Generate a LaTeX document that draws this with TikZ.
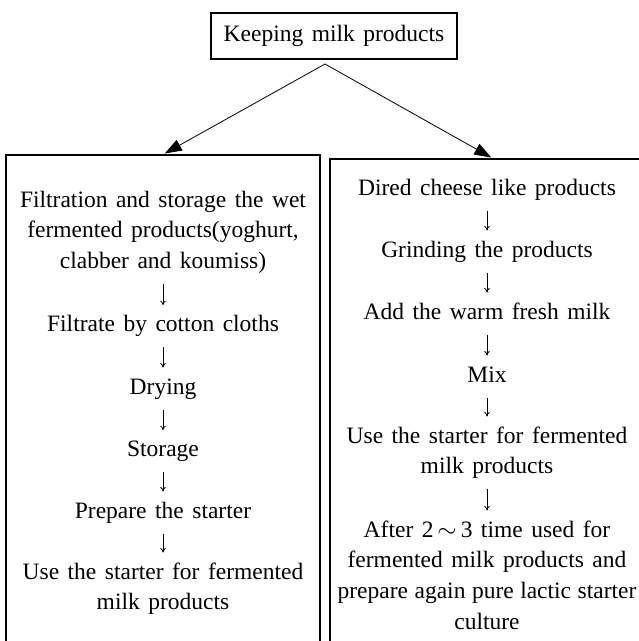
\documentclass[tikz,border=0pt]{standalone}
\usepackage{fontspec}
\setmainfont{Liberation Serif}
\usetikzlibrary{arrows.meta}
\newcommand{\diagfont}{\fontsize{23.5}{30.7}\selectfont\spaceskip 8.5pt\relax}
\begin{document}
\begin{tikzpicture}[x=1pt,y=-1pt,
  txt/.style={font=\diagfont, align=center, inner sep=0pt, anchor=north},
  flow/.style={-{To[length=4.5pt,width=5.5pt]}, line width=0.8pt, shorten <=6pt, shorten >=5pt},
  branch/.style={-{Triangle[length=17pt,width=12pt]}, line width=0.8pt, shorten >=2pt},
  frame/.style={draw, line width=1.1pt, inner sep=0pt}]
\useasboundingbox (0,0) rectangle (639,641);
\begin{scope}
\clip (0,0) rectangle (639,641);
\node[frame, minimum width=314pt, minimum height=505pt] (lbox) at (163,407.5) {};
\node[frame, minimum width=326pt, minimum height=501pt] (rbox) at (493,409.5) {};
\end{scope}
\node[frame, minimum width=246pt, minimum height=46pt, font=\diagfont] (top) at (334,36) {Keeping milk products};
\coordinate (apex) at (325,64);
\draw[branch] (apex) -- (lbox.north);
\draw[branch] (apex) -- (rbox.north);
% left column
\node[txt] (l1) at (163,185.5) {\strut Filtration and storage the wet\\fermented products(yoghurt,\\clabber and koumiss)\strut};
\node[txt] (l2) at (163,310.2) {\strut Filtrate by cotton cloths};
\node[txt] (l3) at (163,372.5) {\strut Drying};
\node[txt] (l4) at (163,435.2) {\strut Storage};
\node[txt] (l5) at (163,496.5) {\strut Prepare the starter};
\node[txt] (l6) at (163,557.5) {\strut Use the starter for fermented\\milk products\strut};
\draw[flow] (l1) -- (l2);
\draw[flow] (l2) -- (l3);
\draw[flow] (l3) -- (l4);
\draw[flow] (l4) -- (l5);
\draw[flow] (l5) -- (l6);
% right column
\node[txt] (r1) at (487,173.5) {\strut Dired cheese like products};
\node[txt] (r2) at (487,235.5) {\strut Grinding the products};
\node[txt] (r3) at (487,297.5) {\strut Add the warm fresh milk};
\node[txt] (r4) at (487,360.5) {\strut Mix};
\node[txt] (r5) at (487,421.5) {\strut Use the starter for fermented\\milk products\strut};
\node[txt] (r6) at (487,515.5) {\strut After 2\,$\sim$\,3 time used for\\fermented milk products and\\\spaceskip 6.5pt\relax prepare again pure lactic starter\\culture\strut};
\draw[flow] (r1) -- (r2);
\draw[flow] (r2) -- (r3);
\draw[flow] (r3) -- (r4);
\draw[flow] (r4) -- (r5);
\draw[flow] (r5) -- (r6);
\end{tikzpicture}
\end{document}
